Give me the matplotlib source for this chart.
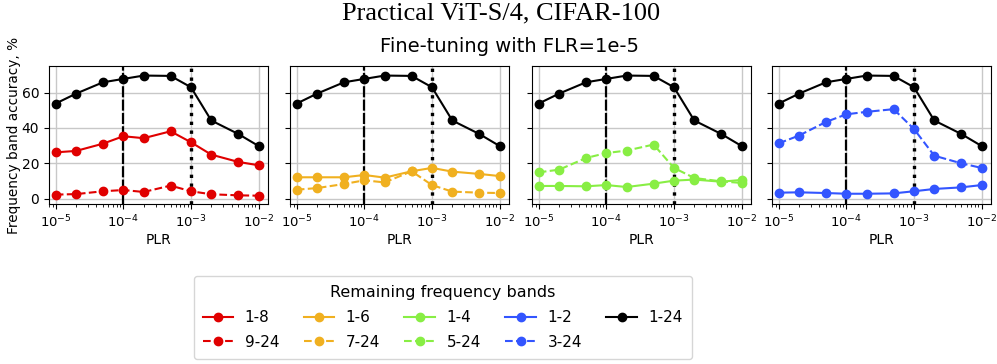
import matplotlib
matplotlib.use('Agg')
import matplotlib.pyplot as plt
import numpy as np

plr = [1e-5, 2e-5, 5e-5, 1e-4, 2e-4, 5e-4, 1e-3, 2e-3, 5e-3, 1e-2]

# all frequency bands kept, same in every panel
acc_all = [53.8, 59.4, 65.8, 67.7, 69.6, 69.4, 63.0, 44.2, 36.6, 29.8]

# (low band, high band) per panel
acc_1_8 = [26.2, 27.0, 31.1, 35.3, 34.2, 38.1, 31.9, 24.9, 20.8, 18.9]
acc_9_24 = [2.3, 2.6, 4.2, 4.9, 3.8, 7.4, 4.2, 2.5, 1.9, 1.7]
acc_1_6 = [12.1, 12.1, 12.1, 13.4, 11.9, 15.5, 17.4, 15.3, 14.0, 12.8]
acc_7_24 = [5.1, 6.0, 8.3, 10.4, 9.2, 15.5, 7.7, 4.0, 3.4, 3.2]
acc_1_4 = [7.2, 7.2, 7.0, 7.7, 6.6, 8.5, 10.2, 10.8, 9.6, 10.6]
acc_5_24 = [14.9, 16.4, 23.0, 25.8, 27.2, 30.6, 17.4, 11.7, 9.8, 8.9]
acc_1_2 = [3.4, 3.6, 3.2, 2.8, 2.8, 3.0, 4.2, 5.5, 6.4, 7.7]
acc_3_24 = [31.3, 35.7, 43.4, 47.7, 49.1, 50.6, 39.4, 24.3, 20.0, 17.4]

low_labels = ['1-8', '1-6', '1-4', '1-2']
high_labels = ['9-24', '7-24', '5-24', '3-24']
low_vals = [acc_1_8, acc_1_6, acc_1_4, acc_1_2]
high_vals = [acc_9_24, acc_7_24, acc_5_24, acc_3_24]
colors = ['#e00000', '#f0b020', '#88ee44', '#3355ff']

fig = plt.figure(figsize=(9.97, 3.64), dpi=100)
fig.text(0.503, 0.962, 'Practical ViT-S/4, CIFAR-100', ha='center', va='center',
         family='Liberation Serif', fontsize=19)
fig.text(0.511, 0.872, 'Fine-tuning with FLR=1e-5', ha='center', va='center', fontsize=14)

lefts = [49, 290, 532, 772]
axes = []
handles = []
for i, l in enumerate(lefts):
    ax = fig.add_axes([l / 997, 1 - 204 / 364, 219 / 997, 138 / 364],
                      sharey=axes[0] if axes else None)
    axes.append(ax)
    ax.grid(True, which='major', color='#c8c8c8', linewidth=1.0)
    ax.set_axisbelow(True)
    ax.axvline(1e-4, color='black', linestyle=(0, (5, 1)), linewidth=1.6, zorder=1.5)
    ax.axvline(1e-3, color='black', linestyle=':', linewidth=2.4, zorder=1.5)
    h1, = ax.plot(plr, low_vals[i], '-o', color=colors[i], ms=6, lw=1.5, label=low_labels[i])
    h2, = ax.plot(plr, high_vals[i], '--o', color=colors[i], ms=6, lw=1.5, label=high_labels[i])
    h3, = ax.plot(plr, acc_all, '-o', color='black', ms=6, lw=1.5, label='1-24')
    handles += [h1, h2]
    ax.set_xscale('log')
    ax.set_xlim(10 ** -5.1, 10 ** -1.86)
    ax.set_ylim(-3, 75)
    ax.set_yticks([0, 20, 40, 60])
    ax.set_xticks([1e-5, 1e-4, 1e-3, 1e-2])
    ax.tick_params(axis='x', labelsize=9.5)
    ax.tick_params(axis='y', labelsize=10)
    ax.set_xlabel('PLR', fontsize=10, labelpad=2)
    if i == 0:
        ax.set_ylabel('Frequency band accuracy, %', fontsize=9.8)
        ax.yaxis.set_label_coords(-0.126, 0.5)
    else:
        ax.tick_params(labelleft=False)
handles.append(h3)

leg = fig.legend(handles=handles, loc='center', bbox_to_anchor=(0.444, 0.128), ncol=5,
                 title='Remaining frequency bands', fontsize=11, title_fontsize=11.5,
                 handlelength=2.0, handletextpad=0.75, columnspacing=1.6,
                 labelspacing=0.65, borderpad=0.6)

fig.savefig('out.png', dpi=100)
